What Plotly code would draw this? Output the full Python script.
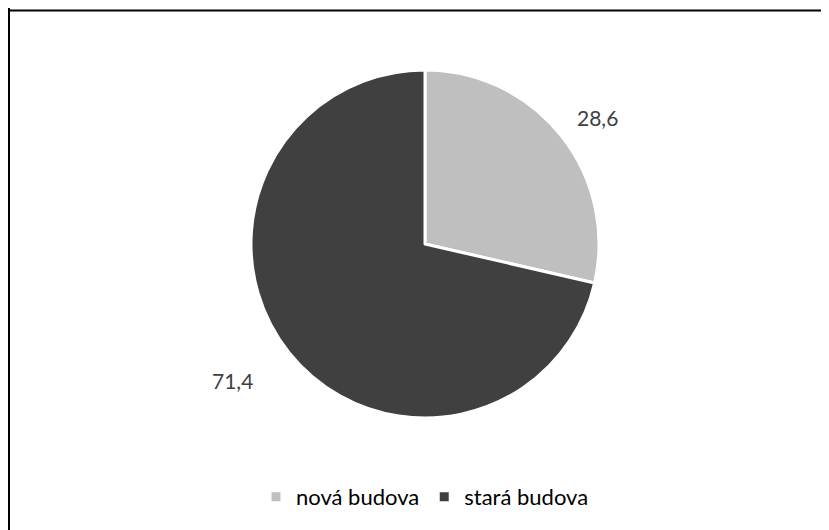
import plotly.graph_objects as go

labels = ["nová budova", "stará budova"]
values = [28.6, 71.4]
colors = ["#bfbfbf", "#404040"]

W, H = 829, 530
OFF = 8  # page body margin offset
cx, cy, r = 425 - OFF, 244 - OFF, 174

# label anchor points (pixels in the reference, Excel "best fit")
label_px = [(597 - OFF, 118 - OFF), (232 - OFF, 380 - OFF)]

fig = go.Figure(go.Pie(
    labels=labels,
    values=values,
    sort=False,
    direction="clockwise",
    rotation=0,
    marker=dict(colors=colors, line=dict(color="white", width=3)),
    textinfo="none",
    domain=dict(x=[(cx - r) / W, (cx + r) / W], y=[1 - (cy + r) / H, 1 - (cy - r) / H]),
    showlegend=True,
    hoverinfo="label+value",
))

annotations = []
for v, (px, py) in zip(values, label_px):
    annotations.append(dict(
        x=px / W, y=1 - py / H, xref="paper", yref="paper",
        text=f"{v:.1f}".replace(".", ","), showarrow=False,
        font=dict(family="Lato", size=21, color="#404040"),
        xanchor="center", yanchor="middle",
    ))

fig.update_layout(
    width=W, height=H,
    margin=dict(l=0, r=0, t=0, b=0),
    paper_bgcolor="white",
    separators=",.",
    font=dict(family="Lato", size=18, color="#000000"),
    legend=dict(orientation="h", x=(425 - OFF) / W, xanchor="center", y=1 - (497 - OFF) / H, yanchor="middle",
                font=dict(family="Lato", size=22, color="#000000"), itemwidth=30),
    annotations=annotations,
    shapes=[
        dict(type="line", xref="paper", yref="paper", x0=0, x1=1, y0=1 - 2.5 / H, y1=1 - 2.5 / H,
             line=dict(color="black", width=2)),
        dict(type="line", xref="paper", yref="paper", x0=1 / W, x1=1 / W, y0=0, y1=1,
             line=dict(color="black", width=2)),
    ],
)

fig.write_html("out.html")
